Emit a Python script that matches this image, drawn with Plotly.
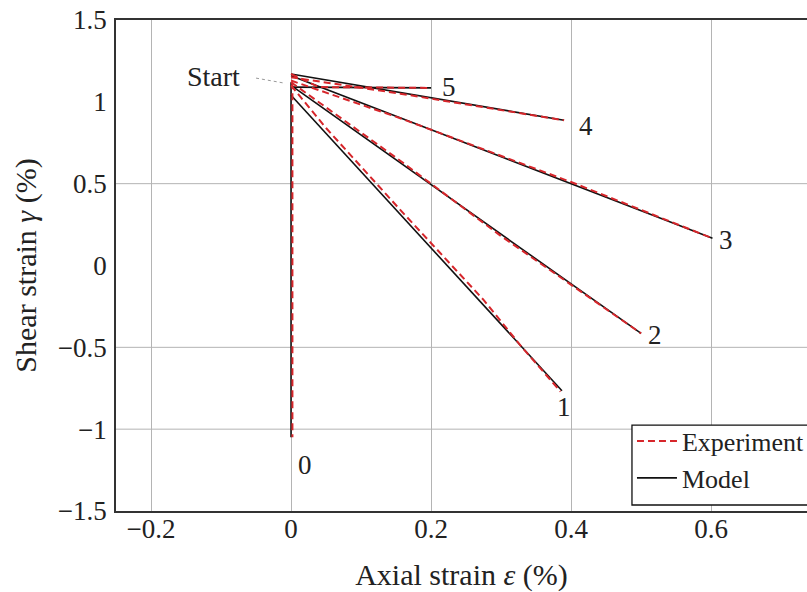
import plotly.graph_objects as go

# ---------------- data ----------------
path_labels = ["0", "1", "2", "3", "4", "5"]

exp_x_0 = [0.002, 0.002]
exp_y_0 = [1.12, -1.05]
exp_x_1 = [0.0, 0.05, 0.156, 0.275, 0.33, 0.385]
exp_y_1 = [1.10, 0.84, 0.34, -0.21, -0.50, -0.77]
exp_x_2 = [0.0, 0.156, 0.30, 0.50]
exp_y_2 = [1.12, 0.64, 0.18, -0.415]
exp_x_3 = [0.0, 0.156, 0.40, 0.602]
exp_y_3 = [1.13, 0.90, 0.51, 0.166]
exp_x_4 = [0.0, 0.156, 0.39]
exp_y_4 = [1.15, 1.05, 0.887]
exp_x_5 = [0.0, 0.04, 0.20]
exp_y_5 = [1.17, 1.09, 1.085]

model_x_0 = [0.0, 0.0]
model_y_0 = [1.12, -1.05]
model_x_1 = [0.0, 0.387]
model_y_1 = [1.04, -0.765]
model_x_2 = [0.0, 0.50]
model_y_2 = [1.10, -0.415]
model_x_3 = [0.0, 0.602]
model_y_3 = [1.16, 0.166]
model_x_4 = [0.0, 0.39]
model_y_4 = [1.17, 0.887]
model_x_5 = [0.0, 0.20]
model_y_5 = [1.09, 1.085]

label_x = [0.02, 0.39, 0.52, 0.621, 0.421, 0.226]
label_y = [-1.22, -0.865, -0.425, 0.156, 0.853, 1.093]

start_label_xy = (-0.111, 1.154)
start_leader = [(-0.05, 1.145), (-0.009, 1.114)]

x_ticks = [-0.2, 0, 0.2, 0.4, 0.6]
y_ticks = [-1.5, -1, -0.5, 0, 0.5, 1, 1.5]
y_grid_vals = [-1, -0.5, 0.5]

exp_paths = [(exp_x_0, exp_y_0), (exp_x_1, exp_y_1), (exp_x_2, exp_y_2),
             (exp_x_3, exp_y_3), (exp_x_4, exp_y_4), (exp_x_5, exp_y_5)]
model_paths = [(model_x_0, model_y_0), (model_x_1, model_y_1), (model_x_2, model_y_2),
               (model_x_3, model_y_3), (model_x_4, model_y_4), (model_x_5, model_y_5)]

# ---------------- figure ----------------
FONT = "Liberation Serif"
RED = "#d7262b"
TXT = "#222222"

fig = go.Figure()

for i, (mx, my) in enumerate(model_paths):
    fig.add_trace(go.Scatter(x=mx, y=my, mode="lines", name="Model",
                             legendgroup="model", showlegend=(i == 0), legendrank=2,
                             line=dict(color="#111111", width=1.6)))
for i, (ex, ey) in enumerate(exp_paths):
    fig.add_trace(go.Scatter(x=ex, y=ey, mode="lines", name="Experiment",
                             legendgroup="exp", showlegend=(i == 0), legendrank=1,
                             line=dict(color=RED, width=2, dash="7px,4px")))

annotations = []
for t, lx, ly in zip(path_labels, label_x, label_y):
    annotations.append(dict(x=lx, y=ly, xref="x", yref="y", text=t, showarrow=False,
                            font=dict(family=FONT, size=27, color=TXT)))
annotations.append(dict(x=start_label_xy[0], y=start_label_xy[1], xref="x", yref="y",
                        text="Start", showarrow=False,
                        font=dict(family=FONT, size=28, color=TXT)))

shapes = []
for gv in y_grid_vals:
    shapes.append(dict(type="line", xref="paper", yref="y", x0=0, x1=1, y0=gv, y1=gv,
                       line=dict(color="#b4b4b4", width=1), layer="below"))
shapes.append(dict(type="line", xref="x", yref="y",
                   x0=start_leader[0][0], y0=start_leader[0][1],
                   x1=start_leader[1][0], y1=start_leader[1][1],
                   line=dict(color="#999999", width=1, dash="dot")))
# legend frame (extends past the right edge like the reference)
shapes.append(dict(type="rect", xref="paper", yref="paper",
                   x0=0.7467, x1=1.06, y0=0.0122, y1=0.175,
                   line=dict(color="#111111", width=1.3), fillcolor="white", layer="above"))

fig.update_layout(
    width=807, height=592,
    margin=dict(l=116, r=0, t=20, b=81, autoexpand=False),
    paper_bgcolor="white", plot_bgcolor="white",
    font=dict(family=FONT, size=27, color=TXT),
    showlegend=True,
    legend=dict(x=0.7467, y=0.19, xanchor="left", yanchor="top",
                bgcolor="rgba(0,0,0,0)", borderwidth=0,
                font=dict(family=FONT, size=26, color=TXT),
                tracegroupgap=0, itemwidth=40),
    annotations=annotations,
    shapes=shapes,
)

fig.update_xaxes(range=[-0.25, 0.737], tickvals=x_ticks,
                 ticktext=[("\u2212" if v < 0 else "") + (f"{abs(v):g}") for v in x_ticks],
                 showgrid=True, gridcolor="#b4b4b4", gridwidth=1, automargin=False,
                 zeroline=False, showline=True, linecolor="#333", linewidth=1.5,
                 mirror=True, ticks="", ticklabelstandoff=-7, ticklabeloverflow="allow",
                 tickfont=dict(family=FONT, size=27, color=TXT),
                 title=dict(text="Axial strain <i>\u03b5</i> (%)", standoff=24,
                            font=dict(family=FONT, size=30, color=TXT)))
fig.update_yaxes(range=[-1.5, 1.5], tickvals=y_ticks,
                 ticktext=[("\u2212" if v < 0 else "") + (f"{abs(v):g}") for v in y_ticks],
                 showgrid=False, zeroline=False, showline=True, linecolor="#333",
                 linewidth=1.5, mirror=False, ticks="", ticklabelstandoff=2,
                 ticklabeloverflow="allow", automargin=False,
                 tickfont=dict(family=FONT, size=27, color=TXT),
                 title=dict(text="Shear strain <i>\u03b3</i> (%)", standoff=12,
                            font=dict(family=FONT, size=30, color=TXT)))

fig.write_html("out.html", config={"displayModeBar": False},
               post_script="document.body.style.margin='0px';document.body.style.overflow='hidden';")
